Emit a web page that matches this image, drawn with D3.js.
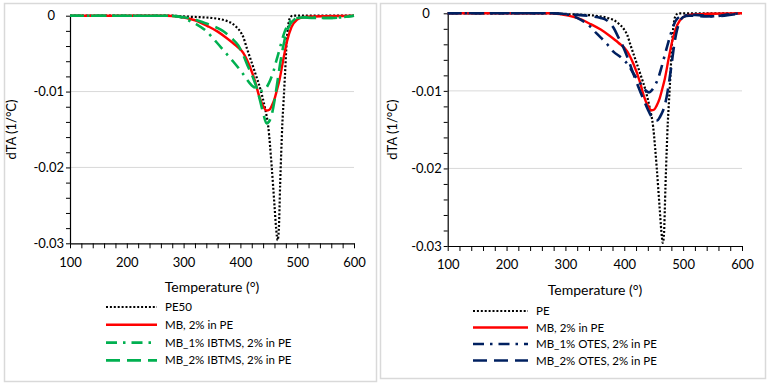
<!DOCTYPE html>
<html><head><meta charset="utf-8">
<script src="https://cdn.jsdelivr.net/npm/d3@7"></script>
<style>
html,body{margin:0;padding:0;background:#fff;}
svg{display:block;font-family:Lato,"Open Sans",sans-serif;}
</style></head>
<body><svg id="chart" width="772" height="391"></svg>
<script>
// ---------- DATA ----------
const xTicks = [100, 200, 300, 400, 500, 600];
const yTicks = [0, -0.01, -0.02, -0.03];

// Pure PE (same measurement shown in both panels)
const pe = [[100,0],[280,0],[300,-0.0001],[330,-0.0002],[350,-0.0003],[372,-0.0006],[385,-0.0010],[393,-0.0015],[400,-0.0021],[405,-0.0028],[411,-0.0042],[420,-0.0062],[428,-0.0080],[436,-0.0099],[443,-0.0121],[449,-0.0146],[455,-0.0198],[460,-0.0250],[463,-0.0281],[465.5,-0.0296],[467.5,-0.0284],[470,-0.0222],[472,-0.0178],[474,-0.0140],[476,-0.0113],[478.5,-0.0078],[481.5,-0.0034],[484.5,-0.0011],[488,-0.0002],[492,0],[600,0]];

// MB, 2% in PE
const mb = [[100,0],[270,0],[290,-0.0001],[305,-0.0003],[320,-0.0006],[343,-0.0014],[360,-0.0021],[375,-0.0029],[390,-0.0038],[405,-0.0049],[416,-0.0066],[426,-0.0087],[433,-0.0106],[440,-0.0119],[446,-0.0125],[451,-0.0124],[455,-0.0119],[460,-0.0110],[464,-0.0099],[469,-0.0084],[475,-0.0060],[482,-0.0034],[490,-0.0015],[500,-0.0005],[510,-0.0002],[530,-0.0001],[600,0]];

// MB_1% IBTMS, 2% in PE
const ibtms1 = [[100,0],[270,0],[290,-0.0001],[305,-0.0005],[322,-0.0011],[338,-0.0019],[358,-0.0035],[373,-0.0048],[388,-0.0061],[402,-0.0074],[420,-0.0092],[430,-0.0097],[437,-0.0099],[443,-0.0097],[448,-0.0092],[453,-0.0084],[458,-0.0074],[463,-0.0060],[468,-0.0047],[473,-0.0033],[478,-0.0021],[485,-0.0010],[495,-0.0004],[520,-0.0002],[550,-0.0003],[580,-0.0002],[600,0]];

// MB_2% IBTMS, 2% in PE
const ibtms2 = [[100,0],[270,0],[300,-0.0002],[320,-0.0005],[335,-0.0009],[350,-0.0013],[367,-0.0019],[385,-0.0030],[396,-0.0039],[405,-0.0052],[414,-0.0068],[423,-0.0083],[429,-0.0096],[434,-0.0110],[440,-0.0128],[446,-0.0142],[450,-0.0140],[455,-0.0131],[460,-0.0112],[465,-0.0088],[470,-0.0063],[475,-0.0042],[480,-0.0025],[487,-0.0012],[495,-0.0005],[505,-0.0002],[530,-0.0003],[560,-0.0003],[590,-0.0001],[600,0]];

// MB_1% OTES, 2% in PE
const otes1 = [[100,0],[280,0],[295,-0.0001],[308,-0.0002],[320,-0.0006],[330,-0.0010],[342,-0.0017],[353,-0.0026],[370,-0.0039],[381,-0.0049],[396,-0.0058],[407,-0.0067],[415,-0.0077],[427,-0.0090],[436,-0.0099],[442,-0.0102],[447,-0.0099],[452,-0.0093],[457,-0.0085],[462,-0.0073],[467,-0.0059],[472,-0.0045],[478,-0.0029],[484,-0.0015],[490,-0.0007],[500,-0.0003],[520,-0.0002],[550,-0.0004],[580,-0.0001],[600,0]];

// MB_2% OTES, 2% in PE
const otes2 = [[100,0],[280,0],[300,-0.0001],[320,-0.0002],[345,-0.0004],[360,-0.0006],[370,-0.0009],[382,-0.0019],[390,-0.0031],[398,-0.0043],[407,-0.0060],[415,-0.0077],[424,-0.0095],[432,-0.0110],[440,-0.0124],[446,-0.0133],[451,-0.0137],[456,-0.0138],[461,-0.0133],[465,-0.0127],[469,-0.0118],[474,-0.0099],[477,-0.0084],[480,-0.0068],[484,-0.0045],[488,-0.0027],[493,-0.0013],[500,-0.0005],[510,-0.0003],[540,-0.0004],[570,-0.0003],[600,0]];

const leftNames = ["PE50", "MB, 2% in PE", "MB_1% IBTMS, 2% in PE", "MB_2% IBTMS, 2% in PE"];
const rightNames = ["PE", "MB, 2% in PE", "MB_1% OTES, 2% in PE", "MB_2% OTES, 2% in PE"];

// ---------- STYLES ----------
const GREEN = "#00b050", NAVY = "#002060";
const styles = {
  dot:  {w: 2.2, dash: "2,1.9"},
  solid:{w: 2.4, dash: null},
  dashdot:{w: 2.6, dash: "11,6,2.5,6"},
  dash: {w: 2.6, dash: "14,7"}
};

const svg = d3.select("#chart");

function panel(cfg) {
  const g = svg.append("g");
  g.append("rect").attr("x", cfg.frame[0] + 0.5).attr("y", cfg.frame[1] + 0.5)
    .attr("width", cfg.frame[2]).attr("height", cfg.frame[3])
    .attr("fill", "#fff").attr("stroke", "#d9d9d9").attr("stroke-width", 1.5);

  const x = d3.scaleLinear().domain([100, 600]).range([cfg.l, cfg.r]);
  const y = d3.scaleLinear().domain([0, -0.03]).range([cfg.t, cfg.b]);

  g.append("g").selectAll("line").data(yTicks.filter(v => v !== -0.03)).join("line")
    .attr("x1", cfg.l).attr("x2", cfg.r).attr("y1", d => y(d)).attr("y2", d => y(d))
    .attr("stroke", "#d9d9d9").attr("stroke-width", 1);

  const yMinor = d3.range(0, 16).map(i => -i * 0.002);
  const yAx = g.append("g").attr("transform", `translate(${cfg.l},0)`)
    .call(d3.axisLeft(y).tickValues(yMinor).tickSize(4).tickSizeOuter(0).tickPadding(2)
      .tickFormat(v => {
        const k = Math.round(-v / 0.002);
        if (k % 5 !== 0) return "";
        return k === 0 ? "0" : v.toFixed(2);
      }));
  yAx.select(".domain").attr("stroke", "#000").attr("stroke-width", 1.2);
  yAx.selectAll(".tick line").attr("stroke", "#000");
  yAx.selectAll("text").attr("font-size", 13).attr("fill", "#000")
    .attr("font-family", "Lato, sans-serif");
  yAx.selectAll(".tick").filter(d => Math.abs(d) < 1e-9).select("text").attr("dx", -cfg.zeroShift);

  const xMinor = d3.range(100, 601, 20);
  const xAx = g.append("g").attr("transform", `translate(0,${cfg.b})`)
    .call(d3.axisBottom(x).tickValues(xMinor).tickSize(5).tickSizeOuter(0).tickPadding(9)
      .tickFormat(v => xTicks.includes(v) ? String(v) : ""));
  xAx.select(".domain").attr("stroke", "#000").attr("stroke-width", 1.2);
  xAx.selectAll(".tick line").attr("stroke", "#000");
  xAx.selectAll("text").attr("font-size", 13).attr("fill", "#000")
    .attr("font-family", "Lato, sans-serif");

  g.append("text").attr("x", cfg.xTitleX).attr("y", cfg.xTitleY)
    .attr("text-anchor", "middle").attr("font-size", 14).attr("fill", "#000")
    .text("Temperature (°)");
  g.append("text").attr("transform", `translate(${cfg.yTitleX},${(cfg.t + cfg.b) / 2}) rotate(-90)`)
    .attr("text-anchor", "middle").attr("font-size", 13).attr("fill", "#000")
    .text("dTA (1/°C)");

  const line = d3.line().x(d => x(d[0])).y(d => y(d[1])).curve(d3.curveMonotoneX);
  g.append("g").selectAll("path").data(cfg.series).join("path")
    .attr("d", s => line(s.data))
    .attr("fill", "none")
    .attr("stroke", s => s.color)
    .attr("stroke-width", s => styles[s.style].w)
    .attr("stroke-dasharray", s => styles[s.style].dash)
    .attr("stroke-linejoin", "round");

  const lg = g.append("g");
  cfg.series.forEach((s, i) => {
    const yy = cfg.legY + i * cfg.legStep;
    lg.append("line").attr("x1", cfg.legX1).attr("x2", cfg.legX2).attr("y1", yy).attr("y2", yy)
      .attr("stroke", s.color).attr("stroke-width", styles[s.style].w)
      .attr("stroke-dasharray", styles[s.style].dash);
    lg.append("text").attr("x", cfg.legX2 + 8).attr("y", yy + 4)
      .attr("font-size", 11.5).attr("fill", "#000").text(s.name);
  });
}

panel({
  frame: [4, 3, 372, 378],
  l: 70, r: 354, t: 15.7, b: 243.3,
  zeroShift: 9,
  xTitleX: 212, xTitleY: 292, yTitleX: 16,
  legX1: 106, legX2: 157, legY: 307, legStep: 17.8,
  series: [
    {name: leftNames[0], data: pe, color: "#000", style: "dot"},
    {name: leftNames[1], data: mb, color: "#ff0000", style: "solid"},
    {name: leftNames[2], data: ibtms1, color: GREEN, style: "dashdot"},
    {name: leftNames[3], data: ibtms2, color: GREEN, style: "dash"}
  ]
});

panel({
  frame: [380, 3, 385, 375],
  l: 447.7, r: 742, t: 13.3, b: 246,
  zeroShift: 12,
  xTitleX: 595, xTitleY: 295, yTitleX: 397,
  legX1: 473, legX2: 528, legY: 311, legStep: 16.5,
  series: [
    {name: rightNames[0], data: pe, color: "#000", style: "dot"},
    {name: rightNames[1], data: mb, color: "#ff0000", style: "solid"},
    {name: rightNames[2], data: otes1, color: NAVY, style: "dashdot"},
    {name: rightNames[3], data: otes2, color: NAVY, style: "dash"}
  ]
});
</script>
</body></html>
